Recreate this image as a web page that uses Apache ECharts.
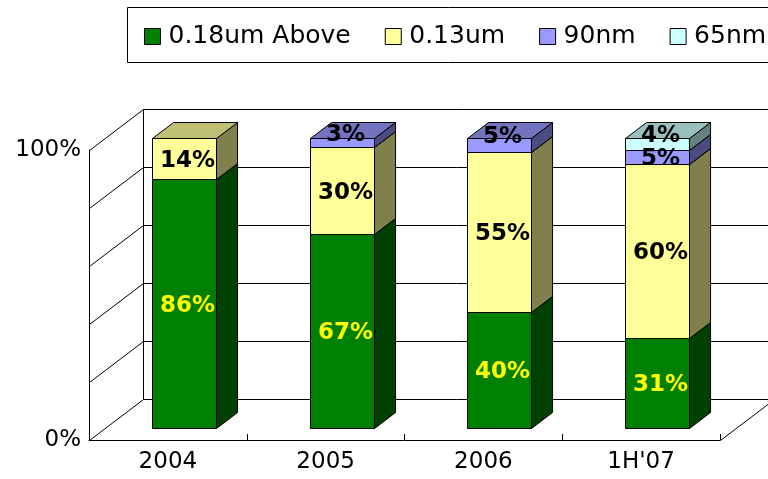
<!DOCTYPE html>
<html><head><meta charset="utf-8">
<script src="https://cdn.jsdelivr.net/npm/echarts@6/dist/echarts.min.js"></script>
<style>html,body{margin:0;padding:0;background:#fff}#c{width:768px;height:479px}</style>
</head><body><div id="c"></div>
<script>
// ---- data ----
const categories = ['2004', '2005', '2006', "1H'07"];
const seriesNames = ['0.18um Above', '0.13um', '90nm', '65nm'];
const above018 = [86, 67, 40, 31];
const um013 = [14, 30, 55, 60];
const nm90 = [0, 3, 5, 5];
const nm65 = [0, 0, 0, 4];
const gridValues = [0, 20, 40, 60, 80, 100];
const yLabelValues = [0, 100];

// ---- styles ----
const frontColors = ['#008000', '#FFFF99', '#9999FF', '#CCFFFF'];
const sideColors = ['#004000', '#80804C', '#4C4C80', '#668080'];
const topColors = ['#006000', '#BFBF73', '#7373BF', '#99BFBF'];
const labelColors = ['#FFFF00', '#000000', '#000000', '#000000'];
const DX = 54, DY = -41, F1 = 0.295, F2 = 0.685, BAR_RATIO = 0.406;
const FONT = '"DejaVu Sans", Verdana, sans-serif';

const valuesList = [above018, um013, nm90, nm65];
const stackData = valuesList.map((vals, si) => vals.map((v, ci) => {
  let start = 0;
  for (let k = 0; k < si; k++) start += valuesList[k][ci];
  return [ci, start, start + v, v, si];
}));
const totals = categories.map((c, ci) => valuesList.reduce((s, a) => s + a[ci], 0));
const labelData = [];
stackData.forEach(arr => arr.forEach(d => { if (d[3] > 0) labelData.push(d); }));

function geom(api) {
  const ci = api.value(0);
  const p0 = api.coord([ci, api.value(1)]);
  const p1 = api.coord([ci, api.value(2)]);
  const w = api.size([1, 0])[0] * BAR_RATIO;
  const fx = Math.round(p0[0] + F1 * DX - w / 2) + 0.5;
  const fx2 = fx + Math.round(w);
  const fyB = Math.round(p0[1] + F1 * DY) + 0.5;
  const fyT = Math.round(p1[1] + F1 * DY) + 0.5;
  return { ci, fx, fx2, fyB, fyT, ddx: (F2 - F1) * DX, ddy: (F2 - F1) * DY };
}

function barRenderer(si) {
  return function (params, api) {
    if (!api.value(3)) return null;
    const g = geom(api);
    const st = c => ({ fill: c, stroke: '#000', lineWidth: 1, lineJoin: 'round' });
    return {
      type: 'group', children: [
        { type: 'polygon', shape: { points: [[g.fx2, g.fyB], [g.fx2 + g.ddx, g.fyB + g.ddy], [g.fx2 + g.ddx, g.fyT + g.ddy], [g.fx2, g.fyT]] }, style: st(sideColors[si]) },
        { type: 'polygon', shape: { points: [[g.fx, g.fyT], [g.fx2, g.fyT], [g.fx2 + g.ddx, g.fyT + g.ddy], [g.fx + g.ddx, g.fyT + g.ddy]] }, style: st(topColors[si]) },
        { type: 'rect', shape: { x: g.fx, y: g.fyT, width: g.fx2 - g.fx, height: g.fyB - g.fyT }, style: st(frontColors[si]) }
      ]
    };
  };
}

function labelRenderer(params, api) {
  const g = geom(api);
  const si = api.value(4);
  const isTop = api.value(2) >= totals[g.ci];
  let y = (g.fyB + g.fyT) / 2 + 2;
  if (isTop && g.fyB - g.fyT < 20) y = (g.fyB + g.fyT + g.ddy) / 2;
  return {
    type: 'text',
    style: { text: api.value(3) + '%', x: (g.fx + g.fx2) / 2 + 3, y: y, align: 'center', verticalAlign: 'middle',
      font: 'bold 23px ' + FONT, fill: labelColors[si] }
  };
}

function frameRenderer(params, api) {
  const cs = params.coordSys;
  const v = api.value(1);
  const y = Math.round(api.coord([0, v])[1]) + 0.5;
  const x0 = Math.round(cs.x) + 0.5;
  const x1 = Math.round(cs.x + cs.width) + 0.5;
  const ls = { stroke: '#000', lineWidth: 1 };
  const ch = [
    { type: 'line', shape: { x1: x0, y1: y, x2: x0 + DX, y2: y + DY }, style: ls },
    { type: 'line', shape: { x1: x0 + DX, y1: y + DY, x2: x1 + DX, y2: y + DY }, style: ls }
  ];
  if (v === 0) {
    const yTop = Math.round(api.coord([0, 100])[1]) + 0.5;
    ch.push({ type: 'line', shape: { x1: x0 + DX, y1: y + DY, x2: x0 + DX, y2: yTop + DY }, style: ls });
    ch.push({ type: 'line', shape: { x1: x1, y1: y, x2: x1 + DX, y2: y + DY }, style: ls });
  }
  return { type: 'group', children: ch };
}

const series = [{
  type: 'custom', name: 'frame', z: 1, silent: true, clip: false,
  data: gridValues.map(v => [0, v]), encode: { x: 0, y: 1 }, renderItem: frameRenderer
}];
seriesNames.forEach((n, si) => series.push({
  type: 'custom', name: n, z: 2, clip: false, itemStyle: { color: frontColors[si] },
  data: stackData[si], encode: { x: 0, y: [1, 2] }, renderItem: barRenderer(si)
}));
series.push({
  type: 'custom', name: 'labels', z: 5, silent: true, clip: false,
  data: labelData, encode: { x: 0, y: [1, 2] }, renderItem: labelRenderer
});

const chart = echarts.init(document.getElementById('c'), null, { renderer: 'canvas' });
chart.setOption({
  animation: false,
  backgroundColor: '#ffffff',
  color: frontColors,
  graphic: [{ type: 'rect', shape: { x: 127.5, y: 7.5, width: 700, height: 55 }, style: { fill: 'none', stroke: '#000', lineWidth: 1 } }],
  legend: {
    data: seriesNames, left: 144, top: 24, padding: 0, icon: 'rect',
    itemWidth: 16, itemHeight: 16, itemGap: 34,
    itemStyle: { borderColor: '#000', borderWidth: 1 },
    textStyle: { fontSize: 25, fontFamily: FONT, color: '#000', padding: [0, 0, 0, 3] }
  },
  grid: { left: 89, right: 48, top: 150, bottom: 39, containLabel: false, outerBoundsMode: 'none' },
  xAxis: {
    type: 'category', data: categories,
    axisLine: { lineStyle: { color: '#000', width: 1 } },
    axisTick: { show: true, inside: true, length: 6, lineStyle: { color: '#000' } },
    axisLabel: { fontSize: 23, fontFamily: FONT, color: '#000', margin: 11 },
    splitLine: { show: false }
  },
  yAxis: {
    type: 'value', min: 0, max: 100, interval: 20,
    axisLine: { show: true, lineStyle: { color: '#000', width: 1 } },
    axisTick: { show: false },
    axisLabel: { fontSize: 23, fontFamily: FONT, color: '#000', margin: 8, padding: [5, 0, 0, 0],
      formatter: v => yLabelValues.includes(v) ? v + '%' : '' },
    splitLine: { show: false }
  },
  series: series
});
</script></body></html>
